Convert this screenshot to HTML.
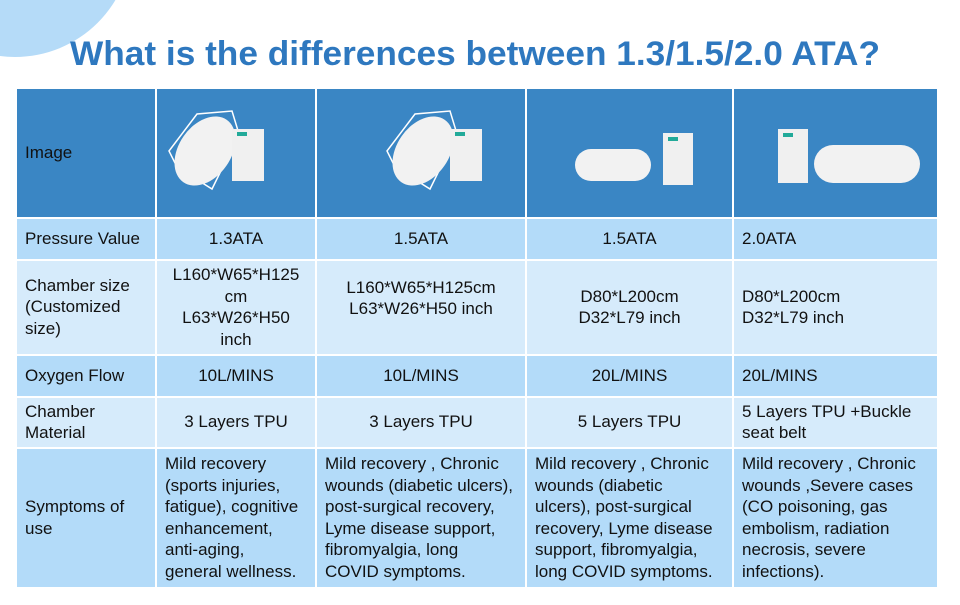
<!DOCTYPE html>
<html><head><meta charset="utf-8"><style>
body{margin:0;width:960px;height:605px;background:#fff;position:relative;overflow:hidden;font-family:"Liberation Sans",Arial,sans-serif;}
.circ{position:absolute;left:-102px;top:-177px;width:234px;height:234px;border-radius:50%;background:#b5dbf8;}
table{position:absolute;left:15px;top:87px;border-collapse:collapse;font-size:17px;color:#111;line-height:21.5px;}
td{border:2px solid #fff;padding:0 0 0 8px;vertical-align:middle;}
.h td{background:#3a86c4;height:122px;}
.d td{background:#b3dbf9;}
.l td{background:#d6ebfb;}
.c{text-align:center;padding:0;}
</style></head><body>
<div class="circ"></div>
<svg style="position:absolute;left:0;top:0" width="960" height="88"><text x="70" y="65" textLength="810" lengthAdjust="spacingAndGlyphs" font-family="Liberation Sans,Arial,sans-serif" font-weight="bold" font-size="34" fill="#2e78bf">What is the differences between 1.3/1.5/2.0 ATA?</text></svg>
<table>
<colgroup><col style="width:140px"><col style="width:160px"><col style="width:210px"><col style="width:207px"><col style="width:205px"></colgroup>
<tr class="h"><td>Image</td>
<td style="padding:0"><svg width="158" height="122"><path d="M12 62 L40 25 L75 22 L82 45 L55 100 L20 78 Z" fill="none" stroke="#fff" stroke-width="1.5"/><ellipse cx="48" cy="62" rx="26" ry="38" transform="rotate(35 48 62)" fill="#f2f2f2"/><rect x="75" y="40" width="32" height="52" fill="#f0f0f0"/><rect x="80" y="43" width="10" height="4" fill="#2a9"/></svg></td>
<td style="padding:0"><svg width="208" height="122"><path d="M70 62 L98 25 L133 22 L140 45 L113 100 L78 78 Z" fill="none" stroke="#fff" stroke-width="1.5"/><ellipse cx="106" cy="62" rx="26" ry="38" transform="rotate(35 106 62)" fill="#f2f2f2"/><rect x="133" y="40" width="32" height="52" fill="#f0f0f0"/><rect x="138" y="43" width="10" height="4" fill="#2a9"/></svg></td>
<td style="padding:0"><svg width="205" height="122"><rect x="48" y="60" width="76" height="32" rx="16" fill="#f2f2f2"/><rect x="136" y="44" width="30" height="52" fill="#f0f0f0"/><rect x="141" y="48" width="10" height="4" fill="#2a9"/></svg></td>
<td style="padding:0"><svg width="203" height="122"><rect x="44" y="40" width="30" height="54" fill="#f0f0f0"/><rect x="49" y="44" width="10" height="4" fill="#2a9"/><rect x="80" y="56" width="106" height="38" rx="19" fill="#f2f2f2"/></svg></td></tr>
<tr class="d" style="height:42px"><td>Pressure Value</td><td class="c">1.3ATA</td><td class="c">1.5ATA</td><td class="c">1.5ATA</td><td>2.0ATA</td></tr>
<tr class="l" style="height:95px"><td>Chamber size<br>(Customized<br>size)</td><td class="c">L160*W65*H125<br>cm<br>L63*W26*H50<br>inch</td><td class="c" style="vertical-align:top;padding-top:16px">L160*W65*H125cm<br>L63*W26*H50 inch</td><td class="c">D80*L200cm<br>D32*L79 inch</td><td>D80*L200cm<br>D32*L79 inch</td></tr>
<tr class="d" style="height:42px"><td>Oxygen Flow</td><td class="c">10L/MINS</td><td class="c">10L/MINS</td><td class="c">20L/MINS</td><td>20L/MINS</td></tr>
<tr class="l" style="height:51px"><td>Chamber<br>Material</td><td class="c">3 Layers TPU</td><td class="c">3 Layers TPU</td><td class="c">5 Layers TPU</td><td>5 Layers TPU +Buckle<br>seat belt</td></tr>
<tr class="d" style="height:140px"><td>Symptoms of<br>use</td><td>Mild recovery<br>(sports injuries,<br>fatigue), cognitive<br>enhancement,<br>anti-aging,<br>general wellness.</td><td>Mild recovery , Chronic<br>wounds (diabetic ulcers),<br>post-surgical recovery,<br>Lyme disease support,<br>fibromyalgia, long<br>COVID symptoms.</td><td>Mild recovery , Chronic<br>wounds (diabetic<br>ulcers), post-surgical<br>recovery, Lyme disease<br>support, fibromyalgia,<br>long COVID symptoms.</td><td>Mild recovery , Chronic<br>wounds ,Severe cases<br>(CO poisoning, gas<br>embolism, radiation<br>necrosis, severe<br>infections).</td></tr>
</table>
</body></html>
